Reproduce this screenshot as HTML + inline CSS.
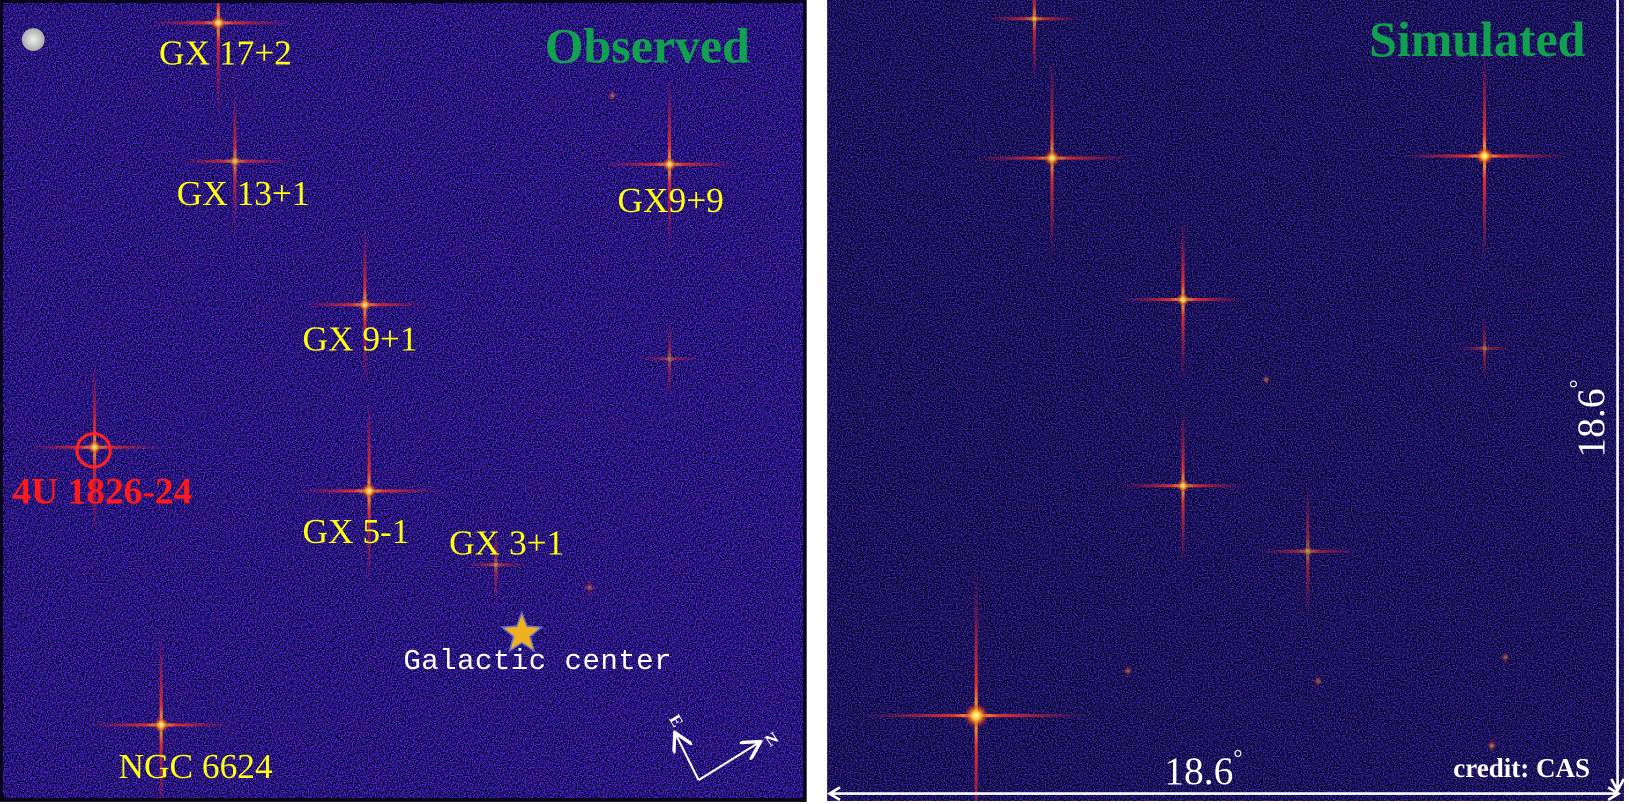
<!DOCTYPE html>
<html><head><meta charset="utf-8"><style>
html,body{margin:0;padding:0;background:#fff;width:1629px;height:804px;overflow:hidden}
svg{display:block;overflow:hidden;position:absolute;left:0;top:0}
</style></head><body>
<svg id="sky" width="1629" height="804" viewBox="0 0 1567 773" preserveAspectRatio="none">
<defs>
<filter id="noiseA" x="0" y="0" width="100%" height="100%">
<feTurbulence type="fractalNoise" baseFrequency="0.9" numOctaves="2" seed="3" result="t"/>
<feColorMatrix in="t" type="matrix" values="1.0 0 0 0 -0.48  0.1 0 0 0 -0.04  3.0 0 0 0 -1.15  0 0 0 0 1"/>
</filter>
<filter id="noiseB" x="0" y="0" width="100%" height="100%">
<feTurbulence type="fractalNoise" baseFrequency="0.85" numOctaves="2" seed="8" result="t"/>
<feColorMatrix in="t" type="matrix" values="0.8 0 0 0 -0.4  0.1 0 0 0 -0.04  2.7 0 0 0 -1.12  0 0 0 0 1"/>
</filter>
<clipPath id="clipL"><rect x="3" y="3" width="769" height="764"/></clipPath>
<clipPath id="clipR"><rect x="796" y="0" width="766" height="770"/></clipPath>
<radialGradient id="core"><stop offset="0" stop-color="#fffbe0"/><stop offset="0.3" stop-color="#ffd030"/><stop offset="0.7" stop-color="#e04020" stop-opacity="0.6"/><stop offset="1" stop-color="#a01040" stop-opacity="0"/></radialGradient>
<linearGradient id="armH" x1="0" x2="1"><stop offset="0" stop-color="#c02050" stop-opacity="0"/><stop offset="0.4" stop-color="#e03030"/><stop offset="0.5" stop-color="#ffd040"/><stop offset="0.6" stop-color="#e03030"/><stop offset="1" stop-color="#c02050" stop-opacity="0"/></linearGradient>
<linearGradient id="armV" x1="0" x2="0" y1="0" y2="1"><stop offset="0" stop-color="#c02050" stop-opacity="0"/><stop offset="0.4" stop-color="#e03030"/><stop offset="0.5" stop-color="#ffd040"/><stop offset="0.6" stop-color="#e03030"/><stop offset="1" stop-color="#c02050" stop-opacity="0"/></linearGradient>
<radialGradient id="moon"><stop offset="0" stop-color="#f0f0f0"/><stop offset="1" stop-color="#a8a8a8"/></radialGradient>
<marker id="ah" markerWidth="10" markerHeight="10" refX="8" refY="5" orient="auto"><path d="M0,0 L9,5 L0,10" fill="none" stroke="#fff" stroke-width="1.6"/></marker>
</defs>
<rect x="0" y="0" width="776" height="771" fill="#08061a"/>
<rect x="3" y="3" width="769" height="764" fill="#0a0828"/>
<rect x="3" y="3" width="769" height="764" filter="url(#noiseA)" opacity="0.85"/>
<rect x="796" y="0" width="766" height="770" fill="#07051a"/>
<rect x="796" y="0" width="766" height="770" filter="url(#noiseB)" opacity="0.75"/>
<g id="srcL" clip-path="url(#clipL)"></g><g id="srcR" clip-path="url(#clipR)"></g>
<circle cx="32" cy="38" r="11" fill="url(#moon)"/>
<circle cx="90" cy="433" r="16" fill="none" stroke="#ff2020" stroke-width="3"/>
<g font-family="Liberation Serif, serif" font-size="34" fill="#ffff10">
<text x="153" y="62">GX 17+2</text>
<text x="170" y="197">GX 13+1</text>
<text x="594" y="204">GX9+9</text>
<text x="291" y="337">GX 9+1</text>
<text x="291" y="522">GX 5-1</text>
<text x="432" y="533">GX 3+1</text>
<text x="114" y="748">NGC 6624</text>
</g>
<text x="12" y="484" font-family="Liberation Serif, serif" font-weight="bold" font-size="36" fill="#ff1a1a">4U 1826-24</text>
<polygon points="502,589 507,602 521,603 510,612 514,626 502,618 490,626 494,612 483,603 497,602" fill="#f0b020" stroke="#6a70c0" stroke-width="1.5"/>
<text x="388" y="643" font-family="Liberation Mono, monospace" font-size="28" fill="#fff" textLength="258">Galactic center</text>
<text x="524" y="60" font-family="Liberation Serif, serif" font-weight="bold" font-size="48" fill="#10a050">Observed</text>
<text x="1317" y="54" font-family="Liberation Serif, serif" font-weight="bold" font-size="48" fill="#10a050">Simulated</text>
<g stroke="#fff" stroke-width="2" fill="none">
<line x1="672" y1="750" x2="650" y2="706" marker-end="url(#ah)"/>
<line x1="672" y1="750" x2="730" y2="714" marker-end="url(#ah)"/>
</g>
<text x="645" y="700" transform="rotate(60 652 694)" font-family="Liberation Serif, serif" font-weight="bold" font-size="16" fill="#fff">E</text>
<text x="736" y="716" transform="rotate(-35 742 710)" font-family="Liberation Serif, serif" font-weight="bold" font-size="16" fill="#fff">N</text>
<g stroke="#fff" stroke-width="2.5" fill="none">
<line x1="799" y1="763" x2="1556" y2="763"/>
<path d="M808,757 L798,763 L808,769 M1547,757 L1557,763 L1547,769"/>
<line x1="1556" y1="0" x2="1556" y2="760"/>
<path d="M1550,749 L1556,760 L1562,749"/>
</g>
<text x="1120" y="754" font-family="Liberation Serif, serif" font-size="38" fill="#fff">18.6<tspan font-size="22" dy="-18">°</tspan></text>
<text x="0" y="0" transform="translate(1543 440) rotate(-90)" font-family="Liberation Serif, serif" font-size="38" fill="#fff">18.6<tspan font-size="22" dy="-18">°</tspan></text>
<text x="1398" y="747" font-family="Liberation Serif, serif" font-weight="bold" font-size="26" fill="#fff">credit: CAS</text>
</svg>
<script>
// source positions (x, y), arm length, brightness
const obsX=[210,226,644,351,91,355,477,567,155,644,589];
const obsY=[22,155,158,293,430,472,543,565,697,345,92];
const obsArm=[70,55,65,60,65,70,30,8,70,30,6];
const obsB=[0.9,0.8,0.9,0.9,0.9,0.95,0.6,0.4,0.95,0.5,0.4];
const simX=[995,1012,1428,1138,1138,1258,939,1428,1218,1085,1268,1448,1435];
const simY=[18,152,150,288,467,530,688,335,365,645,655,632,717];
const simArm=[45,75,80,60,60,50,110,25,4,5,5,5,6];
const simB=[0.8,0.9,1,0.95,0.9,0.6,1,0.5,0.4,0.4,0.4,0.4,0.5];
const NS="http://www.w3.org/2000/svg";
function drawSources(gid,xs,ys,arms,bs){
  const g=document.getElementById(gid);
  for(let i=0;i<xs.length;i++){
    const s=document.createElementNS(NS,'g');
    
    
    s.setAttribute('opacity',bs[i]);
    const a=arms[i];
    const h=document.createElementNS(NS,'rect');
    h.setAttribute('x',xs[i]-a);h.setAttribute('y',ys[i]-1.5);h.setAttribute('width',2*a);h.setAttribute('height',3);h.setAttribute('fill','url(#armH)');
    const v=document.createElementNS(NS,'rect');
    v.setAttribute('x',xs[i]-1.5);v.setAttribute('y',ys[i]-a*1.3);v.setAttribute('width',3);v.setAttribute('height',2.6*a);v.setAttribute('fill','url(#armV)');
    const c=document.createElementNS(NS,'circle');
    c.setAttribute('cx',xs[i]);c.setAttribute('cy',ys[i]);c.setAttribute('r',Math.max(4,a/9));c.setAttribute('fill','url(#core)');
    s.appendChild(h);s.appendChild(v);s.appendChild(c);g.appendChild(s);
  }
}
drawSources('srcL',obsX,obsY,obsArm,obsB);
drawSources('srcR',simX,simY,simArm,simB);
</script>
</body></html>
